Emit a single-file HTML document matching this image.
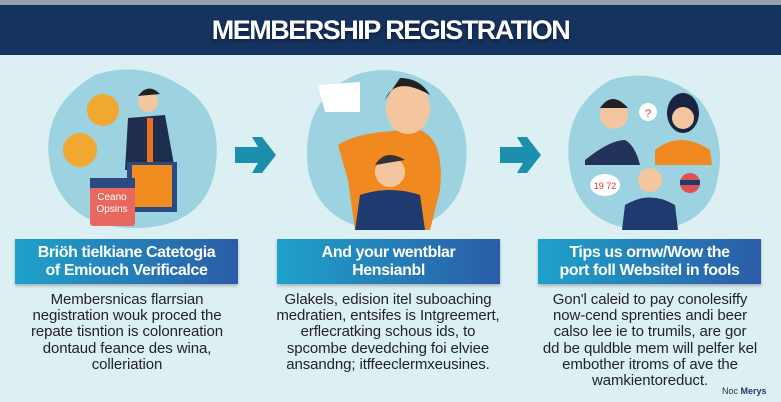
<!DOCTYPE html>
<html><head><meta charset="utf-8"><style>
body{margin:0;width:781px;height:402px;overflow:hidden;background:#dcf0f4;font-family:"Liberation Sans",sans-serif;position:relative}
.top{position:absolute;left:0;top:0;width:781px;height:5px;background:#9aa3ad}
.hdr{position:absolute;left:0;top:5px;width:781px;height:50px;background:#15335f;color:#fff;font-weight:bold;font-size:27px;text-align:center;line-height:50px;letter-spacing:-1.5px;text-shadow:0 2px 3px rgba(0,0,0,.4)}
.bar{position:absolute;top:239px;height:45px;width:223px;background:linear-gradient(90deg,#1ea2c9,#2b5ca7);color:#fff;font-weight:bold;font-size:16px;line-height:18px;text-align:center;display:flex;align-items:center;justify-content:center;box-shadow:0 2px 3px rgba(0,0,0,.25);letter-spacing:-0.4px}
.txt{position:absolute;top:292px;width:240px;text-align:center;font-size:15px;line-height:16.2px;color:#222;letter-spacing:-0.1px}
svg{position:absolute;left:0;top:0}
</style></head><body>
<div class="top"></div>
<div class="hdr">MEMBERSHIP REGISTRATION</div>
<svg width="781" height="240">
<path d="M95 75 Q140 60 180 85 Q225 110 215 170 Q205 225 140 228 Q70 230 52 175 Q35 110 95 75Z" fill="#9dd3e0"/>
<path d="M355 75 Q400 60 440 90 Q480 130 460 190 Q440 232 385 230 Q320 228 308 170 Q300 100 355 75Z" fill="#9dd3e0"/>
<path d="M610 80 Q660 65 700 100 Q730 140 715 190 Q700 230 645 230 Q580 228 570 170 Q560 110 610 80Z" fill="#9dd3e0"/>
<circle cx="103" cy="110" r="16" fill="#f0a830"/><circle cx="80" cy="150" r="17" fill="#f0a830"/>
<path d="M128 118 L165 115 L175 170 L125 170Z" fill="#1f2d4f"/><rect x="147" y="118" width="6" height="45" fill="#e87020"/>
<circle cx="148" cy="102" r="10" fill="#f3c6a0"/><path d="M138 96 Q148 82 160 94Z" fill="#222"/>
<rect x="127" y="162" width="50" height="50" fill="#2a4a80"/><rect x="132" y="165" width="40" height="42" fill="#f08c20"/>
<rect x="90" y="178" width="45" height="48" rx="3" fill="#e86860"/><rect x="90" y="178" width="45" height="10" fill="#2a4a80"/>
<text x="112" y="200" font-family="Liberation Sans" font-size="10" fill="#fff" text-anchor="middle">Ceano</text>
<text x="112" y="212" font-family="Liberation Sans" font-size="10" fill="#fff" text-anchor="middle">Opsins</text>
<path d="M338 145 Q360 130 420 130 Q445 140 440 190 L430 230 L355 230 L348 180Z" fill="#f08a20"/>
<ellipse cx="408" cy="108" rx="22" ry="26" fill="#f3c6a0"/><path d="M385 100 Q395 75 430 95 Q420 78 400 78Z" fill="#222"/>
<path d="M318 85 L360 82 L360 112 L325 112Z" fill="#fff"/>
<path d="M360 195 Q390 185 420 195 L425 230 L355 230Z" fill="#1f3a6e"/><circle cx="390" cy="172" r="15" fill="#f3c6a0"/><path d="M375 165 Q385 148 405 160Z" fill="#333"/>
<path d="M585 160 Q610 140 625 140 Q635 145 640 165 L585 165Z" fill="#22325a"/><circle cx="614" cy="115" r="14" fill="#f3c6a0"/><path d="M600 108 Q612 90 628 108Z" fill="#222"/>
<path d="M655 150 Q680 130 710 150 L712 165 L655 165Z" fill="#f08a20"/><ellipse cx="683" cy="113" rx="16" ry="20" fill="#1a2440"/><circle cx="683" cy="118" r="11" fill="#f3c6a0"/>
<path d="M625 205 Q650 190 675 205 L678 230 L622 230Z" fill="#1f3a6e"/><circle cx="650" cy="180" r="12" fill="#f3c6a0"/>
<circle cx="648" cy="112" r="9" fill="#fff"/><text x="648" y="117" font-size="11" fill="#d33" text-anchor="middle" font-family="Liberation Sans">?</text>
<ellipse cx="605" cy="185" rx="15" ry="11" fill="#fff"/><text x="605" y="189" font-size="9" fill="#d33" text-anchor="middle" font-family="Liberation Sans">19 72</text>
<circle cx="690" cy="183" r="10" fill="#e05050"/><rect x="680" y="180" width="20" height="5" fill="#1f3a6e"/>
<path d="M235 147 L258 147 L252 137 L262 137 L276 155 L262 173 L252 173 L258 163 L235 163Z" fill="#1b8fab"/>
<path d="M500 147 L523 147 L517 137 L527 137 L541 155 L527 173 L517 173 L523 163 L500 163Z" fill="#1b8fab"/>
</svg>
<div class="bar" style="left:15px">Briöh tielkiane Catetogia<br>of Emiouch Verificalce</div>
<div class="bar" style="left:277px">And your wentblar<br>Hensianbl</div>
<div class="bar" style="left:538px">Tips us ornw/Wow the<br>port foll Websitel in fools</div>
<div class="txt" style="left:7px">Membersnicas flarrsian<br>negistration wouk proced the<br>repate tisntion is colonreation<br>dontaud feance des wina,<br>colleriation</div>
<div class="txt" style="left:268px">Glakels, edision itel suboaching<br>medratien, entsifes is Intgreemert,<br>erflecratking schous ids, to<br>spcombe devedching foi elviee<br>ansandng; itffeeclermxeusines.</div>
<div class="txt" style="left:530px">Gon'l caleid to pay conolesiffy<br>now-cend sprenties andi beer<br>calso lee ie to trumils, are gor<br>dd be quldble mem will pelfer kel<br>embother itroms of ave the<br>wamkientoreduct.</div>
<div style="position:absolute;left:722px;top:386px;font-size:9px;color:#333;white-space:nowrap">Noc <b style="color:#1f3a6e">Merys</b></div>
</body></html>
